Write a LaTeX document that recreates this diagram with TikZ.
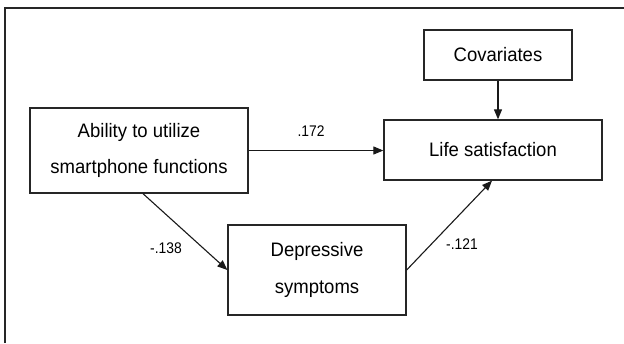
\documentclass[tikz,border=0pt]{standalone}
\usepackage{fontspec}
\setmainfont{Liberation Sans}
\newfontfamily\boxfont{Liberation Sans}[FakeStretch=0.95]
\newfontfamily\labfont{Liberation Sans}[FakeStretch=0.9]
\usetikzlibrary{arrows.meta}
\begin{document}
\begin{tikzpicture}[x=1pt,y=-1pt,
  box/.style={draw=black!85, line width=1.3pt, align=center, inner sep=0pt,
    font=\boxfont\fontsize{19.5}{36.5}\selectfont},
  link/.style={draw=black!90, line width=1.1pt, -{Triangle[length=10pt,width=8pt]}},
  coef/.style={font=\labfont\fontsize{15.4}{16}\selectfont, inner sep=0pt}]
\useasboundingbox (0,0) rectangle (624,343);
\draw[line width=1.8pt, black!85] (5,343) -- (5,8) -- (625,8);
\node[box, minimum width=148pt, minimum height=50pt] (cov) at (498,55) {Covariates};
\node[box, minimum width=218pt, minimum height=60pt] (life) at (493,150) {Life satisfaction};
\node[box, minimum width=218pt, minimum height=85pt] (abil) at (139,150.5) {Ability to utilize\\smartphone functions};
\node[box, minimum width=178pt, minimum height=90pt] (dep) at (317,270) {Depressive\\symptoms};
\draw[link] (cov.south) -- (cov.south |- life.north);
\draw[link] (abil.east) -- (abil.east -| life.west);
\draw[link] ([xshift=4pt]abil.south) -- (dep.west);
\draw[link] (dep.east) -- ([xshift=-1pt]life.south);
\node[coef] (c1) at (311,131) {.172};
\node[coef] (c2) at (166,248) {-.138};
\node[coef] (c3) at (462,244) {-.121};
\end{tikzpicture}
\end{document}
